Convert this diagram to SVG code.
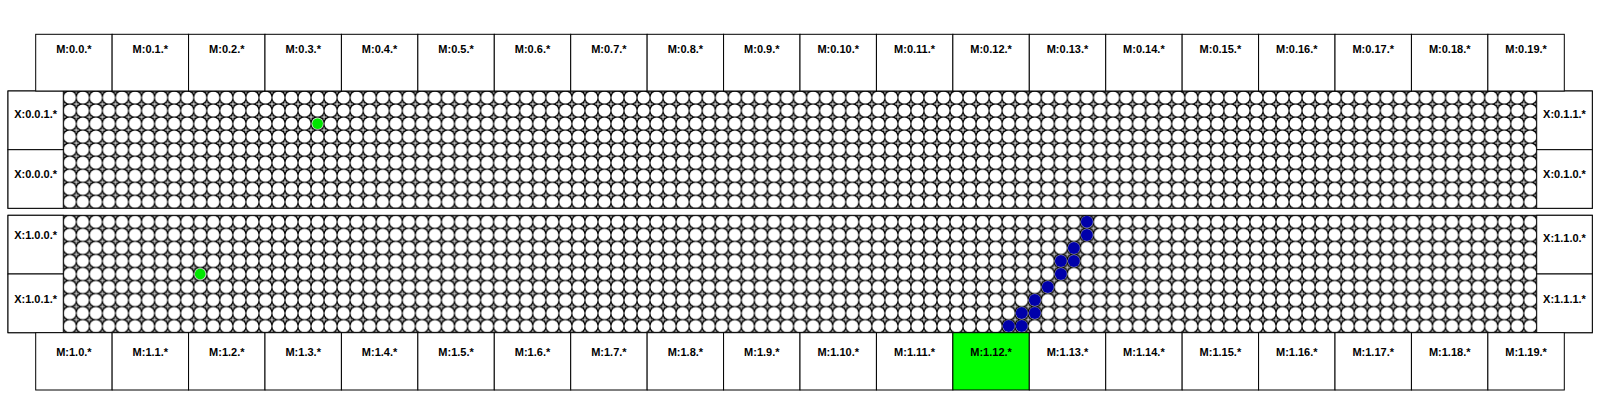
<svg xmlns="http://www.w3.org/2000/svg" width="1600" height="400" viewBox="0 0 1600 400">
<style>
.box{fill:#fff;stroke:#000;stroke-width:1}
.hl{fill:#00ff00;stroke:#000;stroke-width:1}
.sec{fill:none;stroke:#000;stroke-width:1}
text{font-family:"Liberation Sans",Arial,sans-serif;font-weight:bold;font-size:11px;fill:#000;text-anchor:middle}
.blue{fill:#0000aa}
.green{fill:#00e600}
.plus{stroke:#fff;stroke-width:0.9;fill:none}
</style>
<defs>
<g id="tile">
<rect width="13.04" height="13.04" fill="#000"/>
<circle cx="6.52" cy="6.52" r="6.1" fill="#fff"/>
<path class="plus" d="M-2.6,0H2.6M0,-2.6V2.6M10.44,0H15.64M13.04,-2.6V2.6M-2.6,13.04H2.6M0,10.44V15.64M10.44,13.04H15.64M13.04,10.44V15.64"/>
</g>
<pattern id="gridA" patternUnits="userSpaceOnUse" x="63.3" y="91" width="13.04" height="13.04"><use href="#tile"/></pattern>
<pattern id="gridB" patternUnits="userSpaceOnUse" x="63.3" y="215.3" width="13.04" height="13.04"><use href="#tile"/></pattern>
</defs>
<rect width="1600" height="400" fill="#fff"/>

<g id="grid-top">
<rect x="63.3" y="91" width="1473.4" height="117.3" fill="url(#gridA)"/>
<rect class="sec" x="8" y="91" width="1584.3" height="117.3"/>
<circle class="green" cx="317.6" cy="123.6" r="5.4"/>
</g>
<g id="grid-bottom">
<rect x="63.3" y="215.3" width="1473.4" height="117.4" fill="url(#gridB)"/>
<rect class="sec" x="8" y="215.3" width="1584.3" height="117.4"/>
<circle class="green" cx="200.2" cy="274" r="5.4"/>
<g class="blue">
<circle cx="1086.9" cy="221.8" r="6"/>
<circle cx="1086.9" cy="234.9" r="6"/>
<circle cx="1073.9" cy="247.9" r="6"/>
<circle cx="1073.9" cy="260.9" r="6"/>
<circle cx="1060.9" cy="260.9" r="6"/>
<circle cx="1060.9" cy="274" r="6"/>
<circle cx="1047.8" cy="287" r="6"/>
<circle cx="1034.8" cy="300.1" r="6"/>
<circle cx="1034.8" cy="313.1" r="6"/>
<circle cx="1021.7" cy="313.1" r="6"/>
<circle cx="1021.7" cy="326.1" r="6"/>
<circle cx="1008.7" cy="326.1" r="6"/>
</g>
</g>

<g id="X-0-0-1"><rect class="box" x="8" y="91" width="55.3" height="58.7"/><text x="35.6" y="117.5">X:0.0.1.*</text></g>
<g id="X-0-0-0"><rect class="box" x="8" y="149.7" width="55.3" height="58.6"/><text x="35.6" y="177.5">X:0.0.0.*</text></g>
<g id="X-1-0-0"><rect class="box" x="8" y="215.3" width="55.3" height="58.7"/><text x="35.6" y="238.5">X:1.0.0.*</text></g>
<g id="X-1-0-1"><rect class="box" x="8" y="274" width="55.3" height="58.7"/><text x="35.6" y="303">X:1.0.1.*</text></g>
<g id="X-0-1-1"><rect class="box" x="1536.7" y="91" width="55.6" height="58.7"/><text x="1564.5" y="117.5">X:0.1.1.*</text></g>
<g id="X-0-1-0"><rect class="box" x="1536.7" y="149.7" width="55.6" height="58.6"/><text x="1564.5" y="177.5">X:0.1.0.*</text></g>
<g id="X-1-1-0"><rect class="box" x="1536.7" y="215.3" width="55.6" height="58.7"/><text x="1564.5" y="241.5">X:1.1.0.*</text></g>
<g id="X-1-1-1"><rect class="box" x="1536.7" y="274" width="55.6" height="58.7"/><text x="1564.5" y="303">X:1.1.1.*</text></g>

<g id="M-0-0"><rect class="box" x="35.7" y="34.3" width="76.43" height="56.7"/><text x="73.9" y="53">M:0.0.*</text></g>
<g id="M-0-1"><rect class="box" x="112.13" y="34.3" width="76.43" height="56.7"/><text x="150.3" y="53">M:0.1.*</text></g>
<g id="M-0-2"><rect class="box" x="188.56" y="34.3" width="76.43" height="56.7"/><text x="226.8" y="53">M:0.2.*</text></g>
<g id="M-0-3"><rect class="box" x="264.99" y="34.3" width="76.43" height="56.7"/><text x="303.2" y="53">M:0.3.*</text></g>
<g id="M-0-4"><rect class="box" x="341.42" y="34.3" width="76.43" height="56.7"/><text x="379.6" y="53">M:0.4.*</text></g>
<g id="M-0-5"><rect class="box" x="417.85" y="34.3" width="76.43" height="56.7"/><text x="456.1" y="53">M:0.5.*</text></g>
<g id="M-0-6"><rect class="box" x="494.28" y="34.3" width="76.43" height="56.7"/><text x="532.5" y="53">M:0.6.*</text></g>
<g id="M-0-7"><rect class="box" x="570.71" y="34.3" width="76.43" height="56.7"/><text x="608.9" y="53">M:0.7.*</text></g>
<g id="M-0-8"><rect class="box" x="647.14" y="34.3" width="76.43" height="56.7"/><text x="685.4" y="53">M:0.8.*</text></g>
<g id="M-0-9"><rect class="box" x="723.57" y="34.3" width="76.43" height="56.7"/><text x="761.8" y="53">M:0.9.*</text></g>
<g id="M-0-10"><rect class="box" x="800" y="34.3" width="76.43" height="56.7"/><text x="838.2" y="53">M:0.10.*</text></g>
<g id="M-0-11"><rect class="box" x="876.43" y="34.3" width="76.43" height="56.7"/><text x="914.6" y="53">M:0.11.*</text></g>
<g id="M-0-12"><rect class="box" x="952.86" y="34.3" width="76.43" height="56.7"/><text x="991.1" y="53">M:0.12.*</text></g>
<g id="M-0-13"><rect class="box" x="1029.29" y="34.3" width="76.43" height="56.7"/><text x="1067.5" y="53">M:0.13.*</text></g>
<g id="M-0-14"><rect class="box" x="1105.72" y="34.3" width="76.43" height="56.7"/><text x="1143.9" y="53">M:0.14.*</text></g>
<g id="M-0-15"><rect class="box" x="1182.15" y="34.3" width="76.43" height="56.7"/><text x="1220.4" y="53">M:0.15.*</text></g>
<g id="M-0-16"><rect class="box" x="1258.58" y="34.3" width="76.43" height="56.7"/><text x="1296.8" y="53">M:0.16.*</text></g>
<g id="M-0-17"><rect class="box" x="1335.01" y="34.3" width="76.43" height="56.7"/><text x="1373.2" y="53">M:0.17.*</text></g>
<g id="M-0-18"><rect class="box" x="1411.44" y="34.3" width="76.43" height="56.7"/><text x="1449.7" y="53">M:0.18.*</text></g>
<g id="M-0-19"><rect class="box" x="1487.87" y="34.3" width="76.43" height="56.7"/><text x="1526.1" y="53">M:0.19.*</text></g>

<g id="M-1-0"><rect class="box" x="35.7" y="332.7" width="76.43" height="57.3"/><text x="73.9" y="355.5">M:1.0.*</text></g>
<g id="M-1-1"><rect class="box" x="112.13" y="332.7" width="76.43" height="57.3"/><text x="150.3" y="355.5">M:1.1.*</text></g>
<g id="M-1-2"><rect class="box" x="188.56" y="332.7" width="76.43" height="57.3"/><text x="226.8" y="355.5">M:1.2.*</text></g>
<g id="M-1-3"><rect class="box" x="264.99" y="332.7" width="76.43" height="57.3"/><text x="303.2" y="355.5">M:1.3.*</text></g>
<g id="M-1-4"><rect class="box" x="341.42" y="332.7" width="76.43" height="57.3"/><text x="379.6" y="355.5">M:1.4.*</text></g>
<g id="M-1-5"><rect class="box" x="417.85" y="332.7" width="76.43" height="57.3"/><text x="456.1" y="355.5">M:1.5.*</text></g>
<g id="M-1-6"><rect class="box" x="494.28" y="332.7" width="76.43" height="57.3"/><text x="532.5" y="355.5">M:1.6.*</text></g>
<g id="M-1-7"><rect class="box" x="570.71" y="332.7" width="76.43" height="57.3"/><text x="608.9" y="355.5">M:1.7.*</text></g>
<g id="M-1-8"><rect class="box" x="647.14" y="332.7" width="76.43" height="57.3"/><text x="685.4" y="355.5">M:1.8.*</text></g>
<g id="M-1-9"><rect class="box" x="723.57" y="332.7" width="76.43" height="57.3"/><text x="761.8" y="355.5">M:1.9.*</text></g>
<g id="M-1-10"><rect class="box" x="800" y="332.7" width="76.43" height="57.3"/><text x="838.2" y="355.5">M:1.10.*</text></g>
<g id="M-1-11"><rect class="box" x="876.43" y="332.7" width="76.43" height="57.3"/><text x="914.6" y="355.5">M:1.11.*</text></g>
<g id="M-1-12"><rect class="hl" x="952.86" y="332.7" width="76.43" height="57.3"/><text x="991.1" y="355.5">M:1.12.*</text></g>
<g id="M-1-13"><rect class="box" x="1029.29" y="332.7" width="76.43" height="57.3"/><text x="1067.5" y="355.5">M:1.13.*</text></g>
<g id="M-1-14"><rect class="box" x="1105.72" y="332.7" width="76.43" height="57.3"/><text x="1143.9" y="355.5">M:1.14.*</text></g>
<g id="M-1-15"><rect class="box" x="1182.15" y="332.7" width="76.43" height="57.3"/><text x="1220.4" y="355.5">M:1.15.*</text></g>
<g id="M-1-16"><rect class="box" x="1258.58" y="332.7" width="76.43" height="57.3"/><text x="1296.8" y="355.5">M:1.16.*</text></g>
<g id="M-1-17"><rect class="box" x="1335.01" y="332.7" width="76.43" height="57.3"/><text x="1373.2" y="355.5">M:1.17.*</text></g>
<g id="M-1-18"><rect class="box" x="1411.44" y="332.7" width="76.43" height="57.3"/><text x="1449.7" y="355.5">M:1.18.*</text></g>
<g id="M-1-19"><rect class="box" x="1487.87" y="332.7" width="76.43" height="57.3"/><text x="1526.1" y="355.5">M:1.19.*</text></g>

<g id="connectors"></g>
</svg>
